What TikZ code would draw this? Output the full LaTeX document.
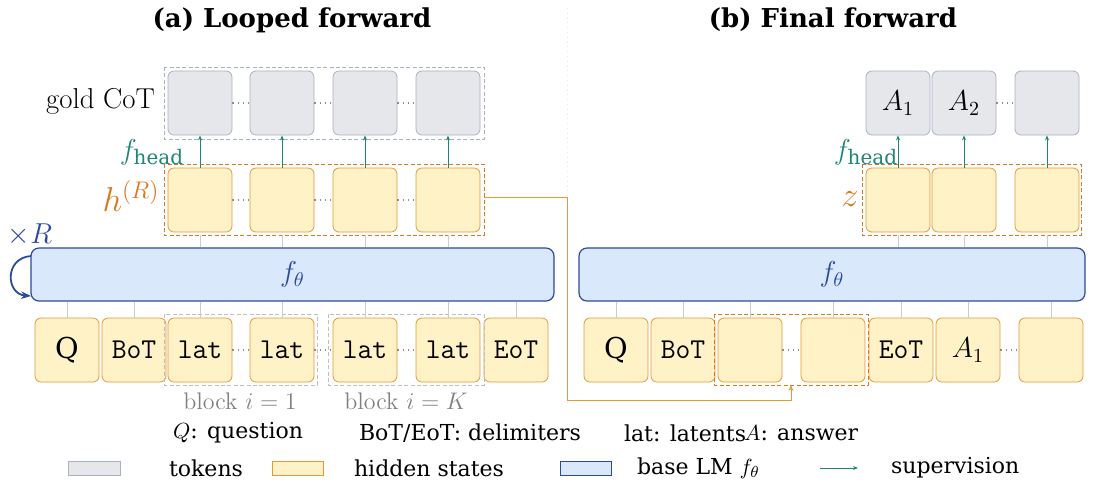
\documentclass[tikz,border=0pt]{standalone}
\usepackage{fontspec}
\setmainfont{DejaVu Serif}
\newfontfamily\lmfont{Latin Modern Roman}
\usetikzlibrary{arrows.meta,positioning}
\definecolor{tokfill}{HTML}{E6E7EB}
\definecolor{tokline}{HTML}{A9B1C2}
\definecolor{hidfill}{HTML}{FFF2C6}
\definecolor{hidline}{HTML}{E59A3A}
\definecolor{orng}{HTML}{D9791E}
\definecolor{supcol}{HTML}{1F8577}
\definecolor{lmfill}{HTML}{DAE8FC}
\definecolor{lmline}{HTML}{2B4A9A}
\tikzset{
  tok/.style={draw=tokline, fill=tokfill, rounded corners=3pt, minimum width=32pt, minimum height=32pt, inner sep=0pt, font=\Large},
  hid/.style={draw=hidline, fill=hidfill, rounded corners=3pt, minimum width=32pt, minimum height=32pt, inner sep=0pt, font=\Large},
  tt/.style={font=\ttfamily\Large},
  lm/.style={draw=lmline, fill=lmfill, rounded corners=4pt, line width=0.6pt, inner sep=0pt, text=lmline, font=\Large},
  grp/.style={draw=#1, dashed, line width=0.5pt, dash pattern=on 2pt off 1.2pt},
  wire/.style={draw=black!20, line width=0.5pt},
  gap/.style={black!45, dotted, line width=0.6pt},
  sup/.style={draw=supcol, line width=0.5pt, -{Stealth[length=2.5pt,width=2pt]}},
  ttl/.style={font=\bfseries\fontsize{13}{15}\selectfont},
  key/.style={anchor=west, font=\fontsize{11}{13}\selectfont},
}
\begin{document}
\begin{tikzpicture}[x=0.5pt,y=-0.5pt]
\useasboundingbox (0,0) rectangle (1095,495);
% titles and divider
\node[ttl] (ta) at (292,20) {(a) Looped forward};
\node[ttl] (tb) at (833,20) {(b) Final forward};
\draw[black!10, dotted] (567,8) -- (567,405);

% ---- (a) looped forward
\foreach \x [count=\i] in {200,282,365,448} {
  \node[tok] (ga\i) at (\x,103) {};
  \node[hid] (ha\i) at (\x,200) {};
}
\node[lm, minimum width=261.5pt, minimum height=26.5pt] (lma) at (292.5,274.5) {$f_\theta$};
\node[hid] (qa) at (67,350) {Q};
\node[hid, tt] (bota) at (134,350) {BoT};
\node[hid, tt] (la1) at (200,350) {lat};
\node[hid, tt] (la2) at (282,350) {lat};
\node[hid, tt] (la3) at (365,350) {lat};
\node[hid, tt] (la4) at (448,350) {lat};
\node[hid, tt] (eota) at (516,350) {EoT};
\draw[grp=tokline] (164,67) rectangle (484,139);
\draw[grp=orng] (164,164) rectangle (484,235);
\draw[grp=black!25] (164,314) rectangle (317,385);
\draw[grp=black!25] (328,314) rectangle (484,385);
\foreach \a/\b in {1/2,2/3,3/4} {
  \draw[gap] (ga\a.east) -- (ga\b.west);
  \draw[gap] (ha\a.east) -- (ha\b.west);
  \draw[gap] (la\a.east) -- (la\b.west);
  \draw[sup] (ha\a.north) -- (ga\a.south);
}
\draw[sup] (ha4.north) -- (ga4.south);
\foreach \n in {qa,bota,la1,la2,la3,la4,eota}
  \draw[wire] (\n.north) -- (\n.north |- lma.south);
\foreach \i in {1,...,4}
  \draw[wire] (ha\i.south) ++(0,3) -- (ha\i.south |- lma.north);
\node[anchor=east, font=\lmfont\Large] (gold) at (162,101) {gold CoT};
\node[text=orng, font=\LARGE] (hlab) at (131,196) {$h^{(R)}$};
\node[text=supcol, font=\Large] (fha) at (152,152) {$f_{\mathrm{head}}$};
\node[text=lmline, font=\Large] (xr) at (30,235) {$\times R$};
\coordinate (lpa) at (31,256);
\coordinate (lpb) at (31,296);
\draw[lmline, line width=0.9pt, -{Stealth[length=5pt]}] (lpa) .. controls (4,258) and (6,294) .. (lpb);
\node[text=black!50, font=\lmfont\large] (bl1) at (240,401) {block $i=1$};
\node[text=black!50, font=\lmfont\large] (bl2) at (406,401) {block $i=K$};

% ---- (b) final forward
\node[tok] (gb1) at (898,103) {$A_1$};
\node[tok] (gb2) at (964,103) {$A_2$};
\node[tok] (gb3) at (1047,103) {};
\foreach \x [count=\i] in {898,964,1047}
  \node[hid] (zb\i) at (\x,200) {};
\node[lm, minimum width=253pt, minimum height=26.5pt] (lmb) at (832,274.5) {$f_\theta$};
\node[hid] (qb) at (616,350) {Q};
\node[hid, tt] (botb) at (683,350) {BoT};
\node[hid] (lb1) at (750,350) {};
\node[hid] (lb2) at (833,350) {};
\node[hid, tt] (eotb) at (901,350) {EoT};
\node[hid] (ab1) at (968,350) {$A_1$};
\node[hid] (ab2) at (1051,350) {};
\draw[grp=orng] (862,164) rectangle (1081,235);
\draw[grp=orng] (714,314) rectangle (868,385);
\draw[gap] (gb2.east) -- (gb3.west);
\draw[gap] (lb1.east) -- (lb2.west);
\draw[gap] (ab1.east) -- (ab2.west);
\foreach \i in {1,2,3}
  \draw[sup] (zb\i.north) -- (gb\i.south);
\foreach \n in {qb,botb,lb1,lb2,eotb,ab1,ab2}
  \draw[wire] (\n.north) -- (\n.north |- lmb.south);
\foreach \i in {1,2,3}
  \draw[wire] (zb\i.south) ++(0,3) -- (zb\i.south |- lmb.north);
\node[text=orng, font=\LARGE] (zlab) at (850,199) {$z$};
\node[text=supcol, font=\Large] (fhb) at (866,152) {$f_{\mathrm{head}}$};
\coordinate (zdst) at (791,385);
\draw[hidline, line width=0.5pt, -{Stealth[length=3pt,width=2.5pt]}] (484,197) -| (567,400) -| (zdst);

% ---- legend
\node[key] (k1) at (166,433) {$Q$: question};
\node[key] (k2) at (352,433) {BoT/EoT: delimiters};
\node[key] (k3) at (617,433) {lat: latents};
\node[key] (k4) at (737,433) {$A$: answer};
\draw[draw=tokline, fill=tokfill] (68,461) rectangle (120,475);
\node[key] (s1) at (162,468) {tokens};
\draw[draw=hidline, fill=hidfill] (272,461) rectangle (323,475);
\node[key] (s2) at (347,468) {hidden states};
\draw[draw=lmline, fill=lmfill] (560,461) rectangle (611,475);
\node[key] (s3) at (630,468) {base LM $f_\theta$};
\coordinate (ka) at (820,468);
\coordinate (kb) at (858,468);
\draw[sup] (ka) -- (kb);
\node[key] (s4) at (884,468) {supervision};
\end{tikzpicture}
\end{document}
